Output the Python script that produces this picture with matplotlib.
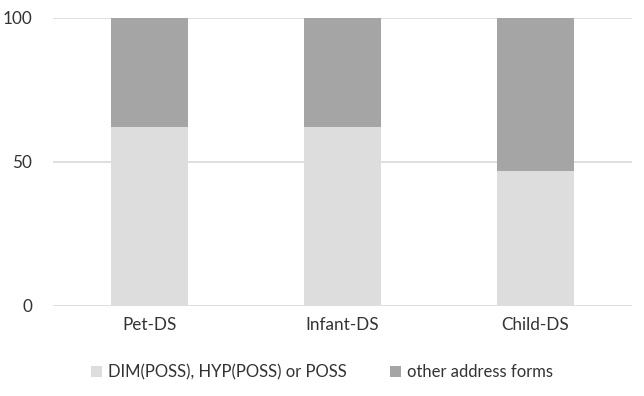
import matplotlib
matplotlib.use("Agg")
import matplotlib.pyplot as plt
import numpy as np

categories = ["Pet-DS", "Infant-DS", "Child-DS"]
poss_forms = [62, 62, 47]
other_forms = [38, 38, 53]
series_labels = ["DIM(POSS), HYP(POSS) or POSS", "other address forms"]
yticks = [0, 50, 100]

plt.rcParams['font.family'] = ['Lato', 'DejaVu Sans']
text_color = "#333333"

fig = plt.figure(figsize=(6.44, 3.96), dpi=100)
ax = fig.add_axes([53/644, 1-306/396, (632-53)/644, (306-18)/396])

x = np.arange(len(categories))
ax.bar(x, poss_forms, width=0.4, color="#DDDDDD", label=series_labels[0], zorder=3)
ax.bar(x, other_forms, width=0.4, bottom=poss_forms, color="#A5A5A5", label=series_labels[1], zorder=3)

ax.set_xlim(-0.5, len(categories)-0.5)
ax.set_ylim(0, 100)
ax.set_yticks(yticks)
ax.set_xticks(x)
ax.set_xticklabels(categories)
ax.yaxis.grid(True, color="#D9D9D9", linewidth=1.2, zorder=0)
for s in ax.spines.values():
    s.set_visible(False)
ax.tick_params(axis='both', length=0, labelsize=12.3, colors=text_color)
ax.tick_params(axis='x', pad=8)
ax.tick_params(axis='y', pad=15)
ax.set_axisbelow(True)

leg = fig.legend(loc="center", bbox_to_anchor=(0.5, 1-372/396), ncol=2, frameon=False,
                 fontsize=12, handlelength=0.65, handleheight=0.65, handletextpad=0.35,
                 columnspacing=2.6)
for t in leg.get_texts():
    t.set_color(text_color)

fig.savefig("out.png", dpi=100)
